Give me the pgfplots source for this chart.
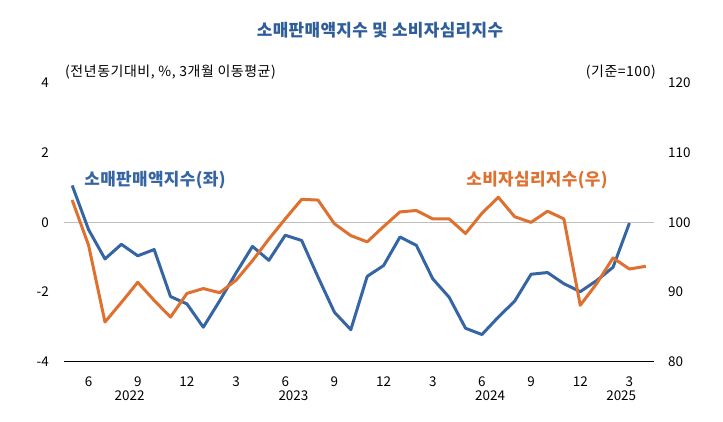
\documentclass[border=0pt]{standalone}
\usepackage{fontspec}
\setmainfont{Noto Sans CJK KR}
\usepackage{pgfplots}
\usepackage{pgfplotstable}
\pgfplotsset{compat=1.18}

\definecolor{retail}{RGB}{54,101,163}
\definecolor{csi}{RGB}{222,112,48}
\definecolor{titleblue}{RGB}{47,93,153}
\definecolor{zeroline}{RGB}{190,190,190}

% t = months since May 2022
\pgfplotstableread{
t v
0 1.06
1 -0.21
2 -1.05
3 -0.63
4 -0.96
5 -0.78
6 -2.13
7 -2.34
8 -3.01
9 -2.25
10 -1.45
11 -0.69
12 -1.09
13 -0.37
14 -0.52
15 -1.57
16 -2.58
17 -3.08
18 -1.55
19 -1.24
20 -0.42
21 -0.66
22 -1.62
23 -2.15
24 -3.04
25 -3.22
26 -2.72
27 -2.26
28 -1.49
29 -1.44
30 -1.76
31 -1.99
32 -1.67
33 -1.29
34 -0.02
}\retailtable

\pgfplotstableread{
t v
0 103.2
1 96.7
2 85.7
3 88.5
4 91.4
5 88.8
6 86.4
7 89.8
8 90.5
9 89.9
10 91.7
11 94.5
12 97.6
13 100.5
14 103.3
15 103.2
16 99.8
17 98.1
18 97.2
19 99.4
20 101.5
21 101.7
22 100.5
23 100.5
24 98.4
25 101.3
26 103.6
27 100.8
28 100.0
29 101.6
30 100.5
31 88.1
32 91.2
33 94.9
34 93.3
35 93.7
}\csitable

\newcommand{\tickfont}{\fontsize{13.5}{16}\selectfont}
\newcommand{\notefont}{\fontsize{14}{17}\selectfont\addfontfeatures{LetterSpace=4}}
\newcommand{\headfont}{\fontsize{17}{20}\selectfont\bfseries\addfontfeatures{LetterSpace=2}}

\pgfplotsset{
  common/.style={
    at={(64bp,59.3bp)}, anchor=south west,
    width=590bp, height=278.7bp, scale only axis,
    xmin=-0.5, xmax=35.5,
    major tick length=0pt,
    /pgf/number format/assume math mode=true,
    ticklabel style={font=\tickfont, inner sep=0pt},
    clip=false,
  },
}

\begin{document}
\begin{tikzpicture}[x=1bp,y=1bp]
\useasboundingbox (0,0) rectangle (723,421);

% left axis: retail sales index (YoY, %)
\begin{axis}[common,
  ymin=-4, ymax=4, ytick={-4,-2,0,2,4},
  axis x line*=bottom, axis y line*=left,
  y axis line style={draw=none},
  x axis line style={black, line width=1.3bp, -},
  xtick={1,4,...,34},
  xticklabels={6,9,12,3,6,9,12,3,6,9,12,3},
  xticklabel style={anchor=center, yshift=-19.5bp},
  yticklabel style={anchor=east, xshift=-15bp},
  extra y ticks={0}, extra y tick labels={},
  extra y tick style={grid=major, grid style={zeroline, line width=1.3bp}},
]
\addplot[retail, line width=3bp, line join=round] table[x=t, y=v] {\retailtable};
\foreach \xpos/\yr in {3.5/2022, 13.5/2023, 25.5/2024, 33.5/2025}{
  \edef\tmp{\noexpand\node[font=\noexpand\tickfont, anchor=center, yshift=-34.3bp] at (axis cs:\xpos,-4) {\yr};}
  \tmp
}
\end{axis}

% right axis: consumer sentiment index
\begin{axis}[common,
  ymin=80, ymax=120, ytick={80,90,...,120},
  axis x line=none, axis y line*=right,
  y axis line style={draw=none},
  yticklabel style={anchor=west, xshift=14bp},
]
\addplot[csi, line width=3bp, line join=round] table[x=t, y=v] {\csitable};
\end{axis}

\node[titleblue, font=\headfont] at (380,391) {소매판매액지수 및 소비자심리지수};
\node[anchor=west, inner sep=0pt, font=\notefont] at (65,349) {(전년동기대비, \%, 3개월 이동평균)};
\node[anchor=east, inner sep=0pt, font=\notefont] at (656,349) {(기준=100)};
\node[retail, font=\headfont] at (155,241) {소매판매액지수(좌)};
\node[csi, font=\headfont] at (537,241) {소비자심리지수(우)};
\end{tikzpicture}
\end{document}
